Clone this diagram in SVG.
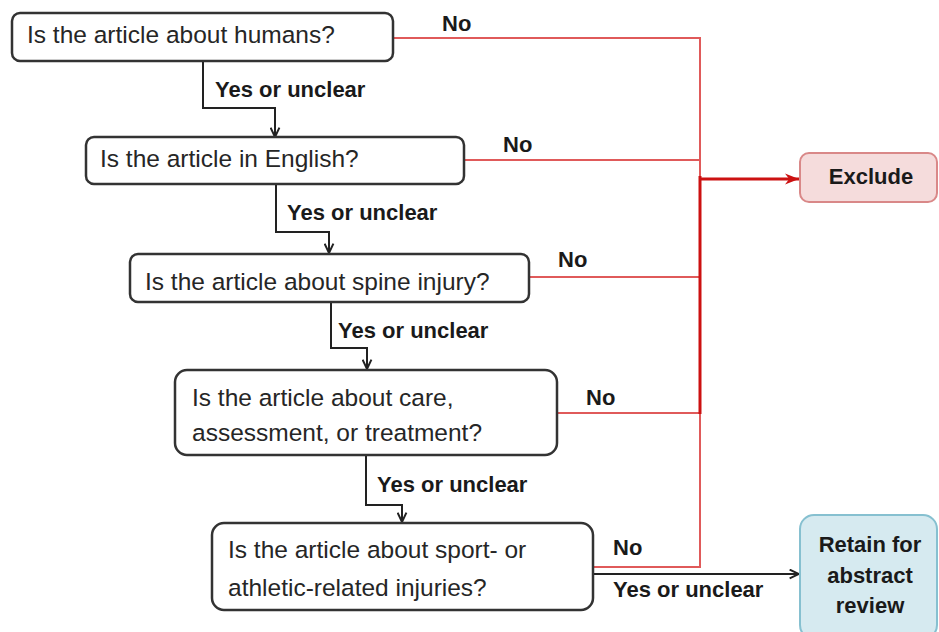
<svg xmlns="http://www.w3.org/2000/svg" width="939" height="632" viewBox="0 0 939 632">
<defs>
<style>
.box{fill:#ffffff;stroke:#333333;stroke-width:2.5}
.q{font-family:"Liberation Sans",Arial,sans-serif;font-size:24.5px;fill:#262626}
.lbl{font-family:"Liberation Sans",Arial,sans-serif;font-size:22px;font-weight:bold;fill:#1a1a1a}
.blk{fill:none;stroke:#222222;stroke-width:2}
.red{fill:none;stroke:#e05a5a;stroke-width:2}
.redk{fill:none;stroke:#cc1111;stroke-width:3}
</style>
<marker id="ab" viewBox="0 0 10 10" refX="9.5" refY="5" markerWidth="11" markerHeight="11" markerUnits="userSpaceOnUse" orient="auto">
<path d="M1,1 L9.5,5 L1,9" fill="none" stroke="#222222" stroke-width="1.8"/>
</marker>
<marker id="ar" viewBox="0 0 10 10" refX="10" refY="5" markerWidth="14" markerHeight="14" markerUnits="userSpaceOnUse" orient="auto">
<path d="M0,1 L10,5 L0,9 L3,5 Z" fill="#cc1111"/>
</marker>
</defs>
<rect width="939" height="632" fill="#ffffff"/>
<g id="connectors">
<path class="blk" d="M203,62 V108 H275 V137" marker-end="url(#ab)"/>
<path class="blk" d="M276,184 V232 H329 V253" marker-end="url(#ab)"/>
<path class="blk" d="M331,302 V348 H367 V369" marker-end="url(#ab)"/>
<path class="blk" d="M366,455 V505 H402 V522" marker-end="url(#ab)"/>
<path class="blk" d="M593,574 H799" marker-end="url(#ab)"/>
<path class="red" d="M393,38 H700 V178"/>
<path class="red" d="M464,160 H700"/>
<path class="red" d="M530,277 H700"/>
<path class="red" d="M557,413 H700"/>
<path class="red" d="M593,567 H700 V413"/>
<path class="redk" d="M700,176 V414"/>
<path class="redk" d="M700,179 H799" marker-end="url(#ar)"/>
<text class="lbl" x="215" y="97">Yes or unclear</text>
<text class="lbl" x="287" y="220">Yes or unclear</text>
<text class="lbl" x="338" y="338">Yes or unclear</text>
<text class="lbl" x="377" y="492">Yes or unclear</text>
<text class="lbl" x="613" y="597">Yes or unclear</text>
<text class="lbl" x="442" y="31">No</text>
<text class="lbl" x="503" y="152">No</text>
<text class="lbl" x="558" y="267">No</text>
<text class="lbl" x="586" y="405">No</text>
<text class="lbl" x="613" y="555">No</text>
</g>
<g id="q1">
<rect class="box" x="12" y="13" width="381" height="48" rx="8"/>
<text class="q" x="27" y="43">Is the article about humans?</text>
</g>
<g id="q2">
<rect class="box" x="86" y="137" width="378" height="47" rx="8"/>
<text class="q" x="100" y="167">Is the article in English?</text>
</g>
<g id="q3">
<rect class="box" x="130" y="254" width="399" height="48" rx="8"/>
<text class="q" x="145" y="290">Is the article about spine injury?</text>
</g>
<g id="q4">
<rect class="box" x="175" y="370" width="382" height="85" rx="12"/>
<text class="q" x="192" y="406">Is the article about care,</text>
<text class="q" x="192" y="441">assessment, or treatment?</text>
</g>
<g id="q5">
<rect class="box" x="212" y="523" width="381" height="87" rx="12"/>
<text class="q" x="228" y="558">Is the article about sport- or</text>
<text class="q" x="228" y="596">athletic-related injuries?</text>
</g>
<g id="exclude">
<rect x="800" y="153" width="137" height="49" rx="9" fill="#f5dcdc" stroke="#d98888" stroke-width="2"/>
<text class="lbl" x="871" y="184" text-anchor="middle">Exclude</text>
</g>
<g id="retain">
<rect x="800" y="515" width="137" height="124" rx="14" fill="#d6eaf0" stroke="#86c0d0" stroke-width="2"/>
<text class="lbl" x="870" y="552" text-anchor="middle">Retain for</text>
<text class="lbl" x="870" y="583" text-anchor="middle">abstract</text>
<text class="lbl" x="870" y="613" text-anchor="middle">review</text>
</g>
</svg>
